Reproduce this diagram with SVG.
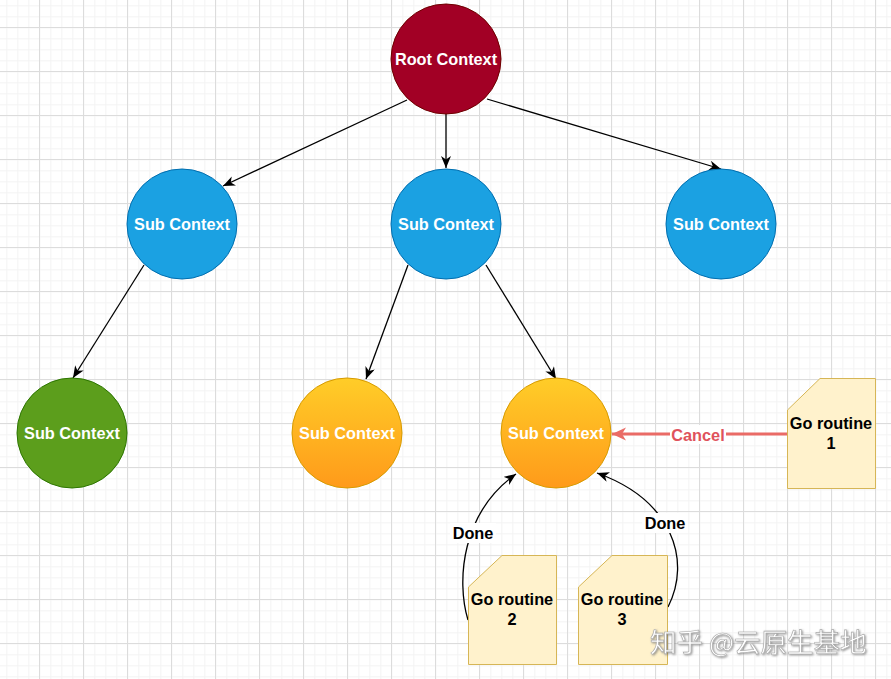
<svg xmlns="http://www.w3.org/2000/svg" width="891" height="679" viewBox="0 0 891 679">
<style>
.lbl{font-family:"Liberation Sans",Arial,sans-serif;font-weight:bold;font-size:16.3px;text-anchor:middle;dominant-baseline:central}
.w{fill:#ffffff}
.k{fill:#000000}
.edge{fill:none;stroke:#000;stroke-width:1.3}
.doc{fill:#fff2cc;stroke:#d6b656;stroke-width:1}
</style>
<defs>
<pattern id="minor" width="11" height="11" patternUnits="userSpaceOnUse" x="6.3" y="5.3">
<path d="M0,0.5 H11 M0.5,0 V11" fill="none" stroke="#f3f3f3" stroke-width="1"/>
</pattern>
<pattern id="major" width="44" height="44" patternUnits="userSpaceOnUse" x="39" y="27">
<path d="M0,0.5 H44 M0.5,0 V44" fill="none" stroke="#dcdcdc" stroke-width="1"/>
</pattern>
<linearGradient id="og" x1="0" y1="0" x2="0" y2="1">
<stop offset="0" stop-color="#ffcd28"/>
<stop offset="1" stop-color="#ff9a1a"/>
</linearGradient>
<marker id="arr" markerUnits="userSpaceOnUse" markerWidth="14" markerHeight="12" refX="12" refY="5" orient="auto">
<path d="M0,0 L12,5 L0,10 L3.5,5 z" fill="#000"/>
</marker>
<marker id="arrR" markerUnits="userSpaceOnUse" markerWidth="16" markerHeight="14" refX="14" refY="6.5" orient="auto">
<path d="M0,0 L14,6.5 L0,13 L4,6.5 z" fill="#ea6b66"/>
</marker>
<filter id="sh" x="-10%" y="-30%" width="120%" height="160%">
<feDropShadow dx="1" dy="1" stdDeviation="0.8" flood-color="#666" flood-opacity="0.7"/>
</filter>
</defs>
<rect width="891" height="679" fill="#ffffff"/>
<rect width="891" height="679" fill="url(#minor)"/>
<rect width="891" height="679" fill="url(#major)"/>

<g id="connectors">
<path class="edge" d="M407,100 L223,186" marker-end="url(#arr)"/>
<path class="edge" d="M446,114 L446,168" marker-end="url(#arr)"/>
<path class="edge" d="M487,99 L721,169" marker-end="url(#arr)"/>
<path class="edge" d="M144,265 L73,378" marker-end="url(#arr)"/>
<path class="edge" d="M408,265 L366,379" marker-end="url(#arr)"/>
<path class="edge" d="M486,265 L556,379" marker-end="url(#arr)"/>
<path d="M787,434 L612,434" fill="none" stroke="#ea6b66" stroke-width="3" marker-end="url(#arrR)"/>
<rect x="670" y="425" width="56" height="19" fill="#ffffff"/>
<text class="lbl" x="698" y="435" fill="#e0525c">Cancel</text>
<path class="edge" d="M468,620 C456,580 462,512 516,474" marker-end="url(#arr)"/>
<rect x="450" y="523" width="46" height="20" fill="#ffffff"/>
<text class="lbl k" x="473" y="533">Done</text>
<path class="edge" d="M668,607 C692,560 672,500 597,473" marker-end="url(#arr)"/>
<rect x="642" y="513" width="46" height="20" fill="#ffffff"/>
<text class="lbl k" x="665" y="523">Done</text>
</g>

<g id="root">
<circle cx="446" cy="59" r="55" fill="#a20025" stroke="#6f0000"/>
<text class="lbl w" x="446" y="59">Root Context</text>
</g>
<g id="sub1">
<circle cx="182" cy="224" r="55" fill="#1ba1e2" stroke="#006eaf"/>
<text class="lbl w" x="182" y="224">Sub Context</text>
</g>
<g id="sub2">
<circle cx="446" cy="224" r="55" fill="#1ba1e2" stroke="#006eaf"/>
<text class="lbl w" x="446" y="224">Sub Context</text>
</g>
<g id="sub3">
<circle cx="721" cy="224" r="55" fill="#1ba1e2" stroke="#006eaf"/>
<text class="lbl w" x="721" y="224">Sub Context</text>
</g>
<g id="green">
<circle cx="72" cy="433" r="55" fill="#5c9e1c" stroke="#2d7600"/>
<text class="lbl w" x="72" y="433">Sub Context</text>
</g>
<g id="orange1">
<circle cx="347" cy="433" r="55" fill="url(#og)" stroke="#d79b00"/>
<text class="lbl w" x="347" y="433">Sub Context</text>
</g>
<g id="orange2">
<circle cx="556" cy="433" r="55" fill="url(#og)" stroke="#d79b00"/>
<text class="lbl w" x="556" y="433">Sub Context</text>
</g>
<g id="go1">
<path class="doc" d="M820,378.5 H875.5 V488.5 H787.5 V410 Z"/>
<text class="lbl k" x="831" y="423">Go routine</text>
<text class="lbl k" x="831" y="443">1</text>
</g>
<g id="go2">
<path class="doc" d="M502,555.5 H556.5 V664.5 H468.5 V587 Z"/>
<text class="lbl k" x="512" y="599">Go routine</text>
<text class="lbl k" x="512" y="619">2</text>
</g>
<g id="go3">
<path class="doc" d="M612,555.5 H667.5 V664.5 H578.5 V587 Z"/>
<text class="lbl k" x="622" y="599">Go routine</text>
<text class="lbl k" x="622" y="619">3</text>
</g>
<text x="650" y="652" font-family="Noto Sans CJK SC, sans-serif" font-size="26.5" fill="#ffffff" stroke="#a8a8a8" stroke-width="0.6" filter="url(#sh)">知乎 @云原生基地</text>
</svg>
